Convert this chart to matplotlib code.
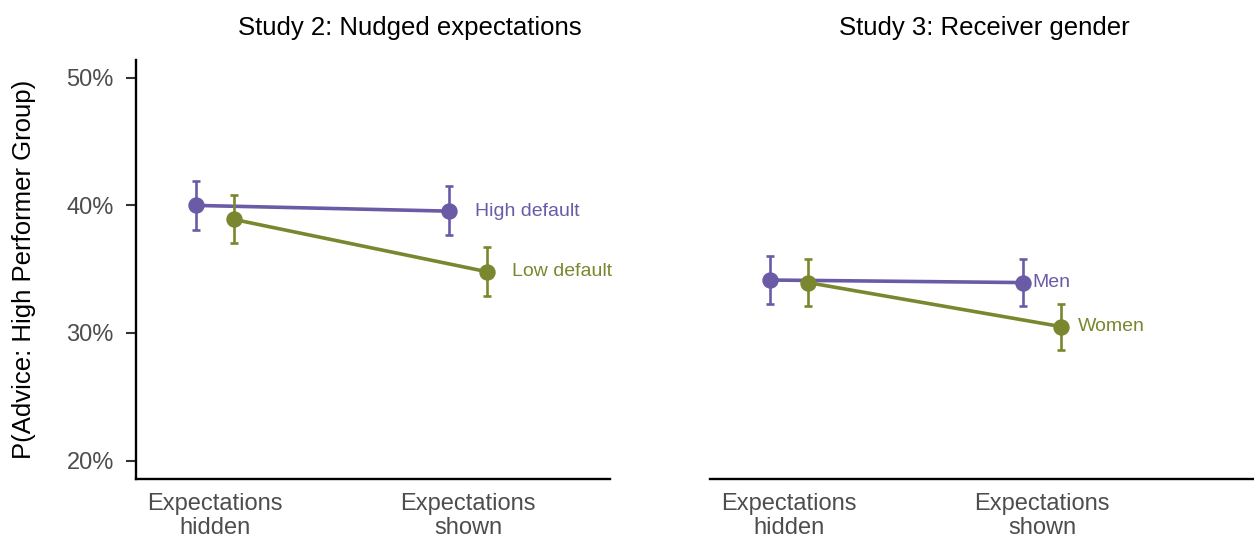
import matplotlib.pyplot as plt
import numpy as np

plt.rcParams["font.family"] = ["Liberation Sans", "DejaVu Sans"]

categories = ["Expectations\nhidden", "Expectations\nshown"]

# Study 2: nudged expectations (percent, with 95% CI bounds)
s2_high = [40.0, 39.55]
s2_high_lo = [38.1, 37.7]
s2_high_hi = [41.9, 41.5]
s2_low = [38.9, 34.8]
s2_low_lo = [37.05, 32.9]
s2_low_hi = [40.8, 36.7]

# Study 3: receiver gender
s3_men = [34.15, 33.95]
s3_men_lo = [32.3, 32.1]
s3_men_hi = [36.0, 35.8]
s3_women = [33.95, 30.5]
s3_women_lo = [32.1, 28.7]
s3_women_hi = [35.8, 32.3]

y_ticks = [20, 30, 40, 50]

PURPLE = "#6B5BA7"
GREEN = "#7A872E"
TICK_GRAY = "#4D4D4D"

fig = plt.figure(figsize=(12.54, 5.40), dpi=100)
ax_l = fig.add_axes([136 / 1254, 61 / 540, 548 / 1254, 419 / 540])
ax_r = fig.add_axes([710 / 1254, 61 / 540, 548 / 1254, 419 / 540])

x = np.arange(1, len(categories) + 1)
dodge = 0.075


def draw_series(ax, xs, mid, lo, hi, color, label, offset):
    mid = np.array(mid)
    err = [mid - np.array(lo), np.array(hi) - mid]
    ax.plot(xs, mid, color=color, lw=2.6, zorder=2)
    ax.errorbar(xs, mid, yerr=err, fmt="none", ecolor=color, elinewidth=1.9,
                capsize=3.2, capthick=1.9, zorder=3)
    ax.plot(xs, mid, "o", color=color, ms=10.8, zorder=4)
    ax.annotate(label, (xs[-1], mid[-1]), xytext=(offset, 0),
                textcoords="offset points", color=color, fontsize=14,
                va="center", ha="left")


draw_series(ax_l, x - dodge, s2_high, s2_high_lo, s2_high_hi, PURPLE, "High default", 19)
draw_series(ax_l, x + dodge, s2_low, s2_low_lo, s2_low_hi, GREEN, "Low default", 18)
draw_series(ax_r, x - dodge, s3_men, s3_men_lo, s3_men_hi, PURPLE, "Men", 7)
draw_series(ax_r, x + dodge, s3_women, s3_women_lo, s3_women_hi, GREEN, "Women", 12)

xmin = 1 - 79 / 253
xmax = xmin + 548 / 253
for ax, title in [(ax_l, "Study 2: Nudged expectations"), (ax_r, "Study 3: Receiver gender")]:
    ax.set_xlim(xmin, xmax)
    ax.set_ylim(18.55, 51.4)
    ax.set_xticks(x)
    ax.set_xticklabels(categories, fontsize=17, color=TICK_GRAY, linespacing=1.12)
    ax.tick_params(axis="x", length=0, pad=10)
    ax.set_title(title, fontsize=18.5, color="black", pad=18)
    for side in ["top", "right"]:
        ax.spines[side].set_visible(False)
    ax.spines["bottom"].set_linewidth(1.7)
    ax.spines["left"].set_linewidth(1.7)

ax_l.spines["bottom"].set_bounds(xmin, 1 + (610 - 215) / 253)
ax_l.set_yticks(y_ticks)
ax_l.set_yticklabels([f"{v}%" for v in y_ticks], fontsize=17, color=TICK_GRAY)
ax_l.tick_params(axis="y", length=7, width=1.5, color="#333333", pad=9)
ax_l.set_ylabel("P(Advice: High Performer Group)", fontsize=18.5, labelpad=22)

ax_r.spines["left"].set_visible(False)
ax_r.set_yticks([])

fig.savefig("out.png", dpi=100)
